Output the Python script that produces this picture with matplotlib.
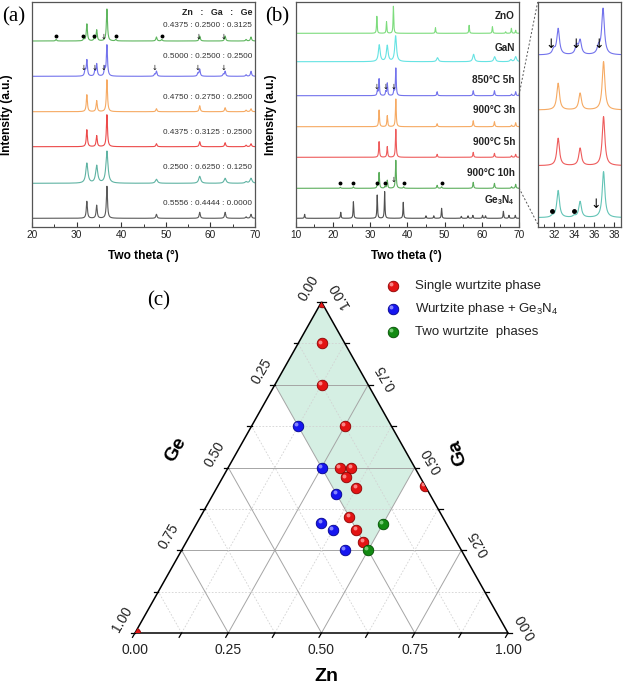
import numpy as np
import matplotlib
matplotlib.use('Agg')
import matplotlib.pyplot as plt
import matplotlib.transforms as transforms
from matplotlib.patches import Polygon
from matplotlib.lines import Line2D

plt.rcParams['font.family'] = ['Liberation Sans', 'DejaVu Sans']
plt.rcParams['mathtext.default'] = 'regular'

# ---------------- data ----------------
# (a) XRD of Zn:Ga:Ge compositions, top to bottom
wz_pos = [32.3, 34.5, 36.8, 47.9, 57.6, 63.3, 68.0, 69.1]
a_ratio = ['0.4375 : 0.2500 : 0.3125', '0.5000 : 0.2500 : 0.2500',
           '0.4750 : 0.2750 : 0.2500', '0.4375 : 0.3125 : 0.2500',
           '0.2500 : 0.6250 : 0.1250', '0.5556 : 0.4444 : 0.0000']
a_colors = ['#5fb65f', '#7373ec', '#f6aa63', '#ec4a4a', '#5fb3a3', '#5a5a5a']
a_heights = [[17, 11, 32, 4, 5, 5, 1.5, 4],
             [16, 12, 31, 5, 7, 5, 1.5, 5],
             [17, 11, 32, 3, 6, 4, 1.5, 3],
             [17, 11, 32, 3, 5, 4, 1.5, 3],
             [20, 17.5, 32, 4, 7, 5, 1.5, 5],
             [17, 13, 32, 4, 6, 6, 1.5, 4]]
a_width = [0.3, 0.3, 0.3, 0.3, 0.55, 0.3]
a_extra_pos = [[25.4, 31.6, 33.9, 38.8, 49.1], [31.9, 34.1, 36.3, 47.5, 57.2, 62.9], [], [], [], []]
a_extra_h = [[1.5, 2, 2, 1.5, 1.5], [6, 5, 8, 2, 3, 2], [], [], [], []]
a_star_x = [25.4, 31.5, 33.9, 38.8, 49.1]
a_arrow_top = [36.1, 57.4, 63.0]
a_arrow_blue = [31.5, 34.1, 36.1, 47.4, 57.2, 63.0]

# (b) references and annealing series, top to bottom
b_labels = ['ZnO', 'GaN', '850°C 5h', '900°C 3h', '900°C 5h', '900°C 10h', 'Ge$_3$N$_4$']
b_colors = ['#7ddc7d', '#66e3e3', '#7373ec', '#f6aa63', '#ee5c5c', '#5cae5c', '#505050']
b_pos = [[31.8, 34.4, 36.25, 47.55, 56.6, 62.85, 66.4, 67.95, 69.1],
         [32.45, 34.6, 36.85, 48.1, 57.8, 63.45, 67.8, 69.1],
         [32.4, 34.6, 36.9, 48.0, 57.7, 63.4, 68.0, 69.1, 31.95, 34.2, 36.4],
         [32.4, 34.6, 36.9, 48.0, 57.7, 63.4, 68.0, 69.1],
         [32.4, 34.6, 36.9, 48.0, 57.7, 63.4, 68.0, 69.1],
         [32.4, 34.6, 36.9, 48.0, 57.7, 63.4, 68.0, 69.1, 22.0, 25.5, 31.9, 34.0, 39.0, 49.2],
         [12.4, 22.1, 25.5, 31.9, 33.9, 38.9, 45.0, 47.1, 49.2, 54.5, 56.3, 57.6,
          60.2, 61.0, 65.8, 67.3, 69.0]]
b_heights = [[17, 11.6, 27, 5.6, 8, 6.6, 1.5, 5, 3],
             [16.7, 16, 25.7, 4, 7.4, 5, 2, 5],
             [16.7, 12.4, 27.4, 4, 5, 5, 1.5, 4, 5, 4, 6],
             [16.7, 11, 27.7, 3, 6, 5, 1.5, 4],
             [15.7, 10.7, 28, 3, 5, 4, 1.5, 3],
             [15.7, 8, 28, 3, 6, 5, 1.5, 4, 1, 1.5, 3, 2, 1.5, 1.5],
             [4, 6, 16.6, 23.3, 26.7, 16, 2.5, 2.5, 10, 2, 2.5, 3, 3, 2.5, 7, 3, 3]]
b_width = [0.2, 0.55, 0.25, 0.25, 0.25, 0.25, 0.2]
b_arrow_blue = [31.6, 34.1, 36.2]
b_star_x = [22.0, 25.5, 31.8, 34.0, 39.0, 49.2]
b_arrow_10h = [36.2]

# (b) inset, 31-38 degrees
in_colors = ['#7373ec', '#f6aa63', '#ee5c5c', '#63c4b6']
in_pos = [[32.4, 34.6, 36.9, 31.95, 34.25, 36.45],
          [32.4, 34.6, 36.95],
          [32.4, 34.6, 36.95],
          [32.4, 34.6, 36.95, 31.8, 34.0]]
in_heights = [[26, 14, 46, 5, 9, 7],
              [26.7, 16.7, 48.3],
              [27.4, 17.4, 49],
              [27, 16, 46, 1.5, 1.5]]
in_arrow_blue = [31.7, 34.2, 36.5]
in_star_x = [31.8, 34.0]
in_arrow_teal = [36.2]

# (c) ternary compositions (Zn, Ga); Ge = 1 - Zn - Ga
red_zn = [0, 0, 0.0625, 0.125, 0.25, 0.30, 0.33, 0.33, 0.375, 0.5556, 0.40, 0.4375, 0.475]
red_ga = [1, 0, 0.875, 0.75, 0.625, 0.50, 0.50, 0.47, 0.4375, 0.4444, 0.35, 0.3125, 0.275]
blue_zn = [0.125, 0.25, 0.33, 0.333, 0.375, 0.4375]
blue_ga = [0.625, 0.50, 0.42, 0.333, 0.3125, 0.25]
green_zn = [0.5, 0.5]
green_ga = [0.33, 0.25]
shade_zn = [0, 0, 0.5, 0.5]
shade_ga = [1, 0.75, 0.25, 0.5]
legend_labels = ['Single wurtzite phase', 'Wurtzite phase + Ge$_3$N$_4$', 'Two wurtzite  phases']

# ---------------- layout helpers ----------------
W, H = 623, 685
fig = plt.figure(figsize=(W / 100, H / 100), dpi=100)


def px_axes(l, t, r, b):
    return fig.add_axes([l / W, 1 - b / H, (r - l) / W, (b - t) / H])


def profile(x, pos, hts, w):
    y = np.zeros_like(x)
    for p, h in zip(pos, hts):
        y += h / (1 + ((x - p) / (w / 2)) ** 2)
    return y


def style_xrd(ax, xlim, major, minor):
    ax.set_xlim(*xlim)
    ax.set_ylim(0, 225)
    ax.set_yticks([])
    ax.set_xticks(major)
    ax.set_xticks(minor, minor=True)
    ax.tick_params(axis='x', which='major', direction='in', length=3.5, width=0.8,
                   labelsize=7.3, pad=2.5, colors='#333', labelcolor='#222')
    ax.tick_params(axis='x', which='minor', direction='in', length=2, width=0.7, colors='#333')
    for s in ax.spines.values():
        s.set_color('#555')
        s.set_linewidth(0.9)


def mark(ax, xs, y, ch, size):
    for x in xs:
        ax.text(x, y, ch, ha='center', va='center', fontsize=size, color='black',
                family=['DejaVu Sans'])


# ---------------- (a) ----------------
axa = px_axes(32, 2, 255, 227)
a_off = [186, 150.7, 115.3, 80.3, 43.7, 8.7]
a_lab_y = [202, 170.3, 129.3, 94.3, 59.3, 23.7]
xa = np.linspace(20, 70, 4000)
for i in range(6):
    y = profile(xa, wz_pos + a_extra_pos[i], a_heights[i] + a_extra_h[i], a_width[i])
    axa.plot(xa, y + a_off[i], color=a_colors[i], lw=0.8)
    axa.text(69.4, a_lab_y[i], a_ratio[i], ha='right', va='center', fontsize=5.9, color='#333')
axa.text(69.4, 214.3, 'Zn   :   Ga   :   Ge', ha='right', va='center', fontsize=6.4,
         fontweight='bold', color='#222')
for x in a_star_x:
    axa.plot(x, 191.3, marker='o', ms=1.8, color='black')
mark(axa, a_arrow_top, 190, '↓', 5)
mark(axa, a_arrow_blue, 159, '↓', 5)
style_xrd(axa, (20, 70), range(20, 71, 10), range(25, 70, 10))
axa.set_xlabel('Two theta (°)', fontsize=8.6, fontweight='bold')
axa.set_ylabel('Intensity (a.u.)', fontsize=8.6, fontweight='bold')
axa.xaxis.set_label_coords(0.5, -0.102)
axa.yaxis.set_label_coords(-0.084, 0.5)

# ---------------- (b) ----------------
axb = px_axes(295.7, 2, 519, 227)
b_off = [193.7, 165.3, 131.3, 100.3, 69.7, 38.7, 8.7]
b_lab_y = [211, 179.3, 147, 117, 85.3, 53.7, 27]
xb = np.linspace(10, 70, 5000)
for i in range(7):
    y = profile(xb, b_pos[i], b_heights[i], b_width[i])
    axb.plot(xb, y + b_off[i], color=b_colors[i], lw=0.8)
    axb.text(68.9, b_lab_y[i], b_labels[i], ha='right', va='center', fontsize=7.2,
             fontweight='bold', color='#222')
mark(axb, b_arrow_blue, 140, '↓', 5)
for x in b_star_x:
    axb.plot(x, 44, marker='o', ms=1.8, color='black')
mark(axb, b_arrow_10h, 47, '↓', 5)
style_xrd(axb, (10, 70), range(10, 71, 10), range(15, 70, 10))
axb.set_xlabel('Two theta (°)', fontsize=8.6, fontweight='bold')
axb.set_ylabel('Intensity (a.u.)', fontsize=8.6, fontweight='bold')
axb.xaxis.set_label_coords(0.497, -0.102)
axb.yaxis.set_label_coords(-0.085, 0.5)

# inset
axi = px_axes(537.7, 2, 621, 227)
in_off = [172, 117, 61.3, 9.3]
xi = np.linspace(30.3, 38.7, 3000)
for i in range(4):
    y = profile(xi, in_pos[i], in_heights[i], 0.32)
    axi.plot(xi, y + in_off[i], color=in_colors[i], lw=0.8)
mark(axi, in_arrow_blue, 183, '↓', 9)
for x in in_star_x:
    axi.plot(x, 16, marker='o', ms=2.5, color='black')
mark(axi, in_arrow_teal, 22, '↓', 9)
style_xrd(axi, (30.35, 38.7), range(32, 39, 2), range(31, 39, 2))

for p0, p1 in [((519, 95), (537.7, 2)), ((519, 188), (537.7, 224))]:
    fig.add_artist(Line2D([p0[0] / W, p1[0] / W], [1 - p0[1] / H, 1 - p1[1] / H],
                          transform=fig.transFigure, color='#555', lw=0.7, ls=(0, (2, 2))))

# ---------------- (c) ternary ----------------
axt = px_axes(135, 302, 508, 633)
axt.set_xlim(0, 1)
axt.set_ylim(0, 1)
axt.axis('off')
sx, sy = 1 / 373, 1 / 331   # data units per pixel


def tri(zn, ga):
    zn = np.asarray(zn, float)
    ga = np.asarray(ga, float)
    return zn + ga / 2, ga


tri_patch = Polygon([(0, 0), (1, 0), (0.5, 1)], closed=True, fill=False,
                    edgecolor='black', lw=1.1, zorder=4, clip_on=False)
axt.add_patch(tri_patch)
shx, shy = tri(shade_zn, shade_ga)
axt.add_patch(Polygon(np.column_stack([shx, shy]), closed=True, facecolor='#d5efe3',
                      edgecolor='none', zorder=1))

for v in np.arange(0.125, 0.9, 0.125):
    major = abs(v / 0.25 - round(v / 0.25)) < 1e-6
    kw = dict(color='#a5a5a5', lw=0.7) if major else dict(color='#d2d2d2', lw=0.6, ls=(0, (2, 2)))
    for zn, ga in [([0, 1 - v], [v, v]), ([v, v], [0, 1 - v]), ([1 - v, 0], [0, 1 - v])]:
        x, y = tri(zn, ga)
        axt.plot(x, y, zorder=2, **kw)

for v in np.arange(0, 1.001, 0.125):
    x, y = tri(v, 0)
    axt.plot([x, x - 2.5 * sx], [y, y - 4.3 * sy], color='black', lw=0.9, clip_on=False)
    x, y = tri(0, 1 - v)
    axt.plot([x, x - 4.5 * sx], [y, y], color='black', lw=0.9, clip_on=False)
    x, y = tri(1 - v, v)
    axt.plot([x, x + 4.5 * sx], [y, y], color='black', lw=0.9, clip_on=False)

for v in [0, 0.25, 0.5, 0.75, 1.0]:
    lab = f'{v:.2f}'
    x, y = tri(v, 0)
    axt.text(x, y - 17 * sy, lab, ha='center', va='center', fontsize=10, color='#222')
    x, y = tri(0, 1 - v)
    axt.text(x - 13 * sx, y + 13.5 * sy, lab, ha='center', va='center', fontsize=10,
             rotation=60, color='#222')
    x, y = tri(1 - v, v)
    axt.text(x + 18 * sx, y + 7 * sy, lab, ha='center', va='center', fontsize=10,
             rotation=120, color='#222')

axt.text(0.514, -0.132, 'Zn', ha='center', va='center', fontsize=14, fontweight='bold')
axt.text(0.110, 0.553, 'Ge', ha='center', va='center', fontsize=14, fontweight='bold', rotation=60)
axt.text(0.867, 0.547, 'Ga', ha='center', va='center', fontsize=14, fontweight='bold', rotation=108)

hl = transforms.ScaledTranslation(-1.3 / 72, 1.3 / 72, fig.dpi_scale_trans)
sphere_cols = [('#e31414', '#8c0000', '#ff9a9a'),
               ('#1616f0', '#00008c', '#9a9aff'),
               ('#128a12', '#004c00', '#86d686')]


def spheres(x, y, cols, clip=True):
    base, edge, light = cols
    m, = axt.plot(x, y, 'o', ms=7.6, color=base, mec=edge, mew=0.6, zorder=6)
    h, = axt.plot(x, y, 'o', ms=2.8, color=light, mec='none', alpha=0.85, zorder=7,
                  transform=axt.transData + hl)
    for art in (m, h):
        if clip:
            art.set_clip_path(tri_patch)
        else:
            art.set_clip_on(False)


for zn, ga, cols in [(red_zn, red_ga, sphere_cols[0]), (blue_zn, blue_ga, sphere_cols[1]),
                     (green_zn, green_ga, sphere_cols[2])]:
    x, y = tri(zn, ga)
    spheres(x, y, cols)

for i, lab in enumerate(legend_labels):
    ly = (633 - [285.7, 309, 331.7][i]) * sy
    spheres([0.692], [ly], sphere_cols[i], clip=False)
    axt.text(0.751, ly, lab, ha='left', va='center', fontsize=9.5, color='#222')

# panel labels
for lab, x, y in [('(a)', 2, 17), ('(b)', 265, 17), ('(c)', 147, 301)]:
    fig.text(x / W, 1 - y / H, lab, family='Liberation Serif', fontsize=15,
             ha='left', va='center')

fig.savefig('out.png', dpi=100)
